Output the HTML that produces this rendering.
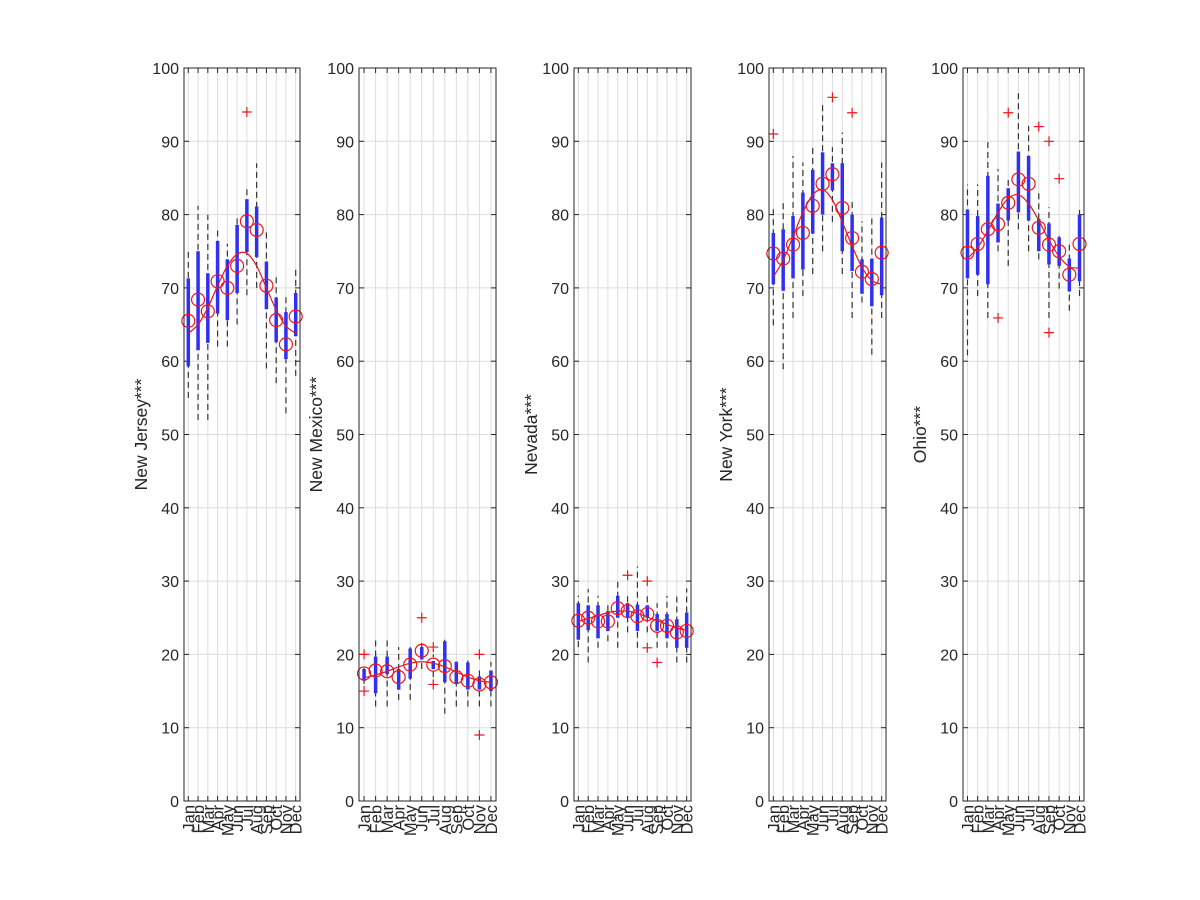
<!DOCTYPE html>
<html><head><meta charset="utf-8"><style>
html,body{margin:0;padding:0;background:#fff;}
svg{display:block;font-family:"Liberation Sans",Arial,sans-serif;}
</style></head><body>
<svg id="c" width="1200" height="900" viewBox="0 0 1200 900" xmlns="http://www.w3.org/2000/svg"></svg>
<script>
const months = ["Jan","Feb","Mar","Apr","May","Jun","Jul","Aug","Sep","Oct","Nov","Dec"];
const yTicks = [0,10,20,30,40,50,60,70,80,90,100];
const states = ["New Jersey***","New Mexico***","Nevada***","New York***","Ohio***"];
const wLo = [
 [55,52,52,62,62,65,69,70,59,57,52.9,58],
 [16,12.9,12.9,13.8,13.8,18,16.9,11.9,12.9,12.9,12.9,12.9],
 [21,18.9,20.9,21.8,20.9,23,20.9,23,20.9,20.9,18.9,18.9],
 [64.9,58.9,65.9,68.9,71.9,75,79,71.9,65.9,68,60.9,65.9],
 [60.8,68.9,65.9,75,73,78,75,73.9,65.9,69.9,66.9,68.9]];
const q1 = [
 [59.3,61.5,62.5,66.5,65.6,69.3,74.9,74.2,67.1,62.6,60.3,63.4],
 [16.4,14.7,17.3,15.2,16.7,19.3,18,16.2,16.1,15.2,15.2,15],
 [22,23.3,22.2,23.2,25,25,23.2,25,23.2,22.2,20.9,20.9],
 [70.5,69.6,71.3,72.5,77.4,80,83.3,75,72.3,69.2,67.5,69],
 [71.3,71.8,70.5,76.2,79.2,80.3,79.2,75,73.2,73,69.5,70.9]];
const q3 = [
 [71.3,75,72,76.4,73.9,78.6,82.1,81.1,73.6,68.7,66.7,69.3],
 [18,19.7,19.7,18,20.8,21,19.1,21.8,19,18.9,17,17.8],
 [27,26.7,26.7,25.9,28,27,26.8,26.7,25.5,25.5,24.8,25.7],
 [77.5,78,79.8,83,86.1,88.5,87,87,80,73.9,74,79.6],
 [80.7,79.8,85.3,81.5,83.6,88.6,88,79.4,78.8,76.9,74,80]];
const wHi = [
 [75.1,81.2,80,78,76,80,84,87,78,72,69,73],
 [18.7,22,22,21,21,22,20,22,19,19.2,18,19],
 [28,28.9,28,27,30,28,32,28,27,28,28,29],
 [81,82,88,87.1,89.2,95.1,89.2,91.2,82.1,79.1,80,87.1],
 [84.1,84.1,90.2,86.2,85.1,97.1,92.1,83,81,77.1,75.9,81]];
const means = [
 [65.5,68.4,66.8,70.9,70,73,79.1,77.9,70.3,65.6,62.3,66.1],
 [17.4,17.8,17.7,16.9,18.6,20.5,18.6,18.4,16.9,16.4,15.9,16.2],
 [24.6,25,24.5,24.5,26.3,25.9,25.2,25.5,23.9,23.9,23,23.2],
 [74.7,74,75.9,77.5,81.2,84.2,85.5,80.9,76.8,72.2,71.2,74.8],
 [74.8,76,78,78.7,81.6,84.8,84.2,78.2,75.9,75,71.8,76]];
const fits = [
 [63.8,65,67.3,70.3,73,74.6,74.7,73,70,67,64.8,63.8],
 [16.8,17.2,17.7,18.3,18.8,19,18.8,18.3,17.6,16.9,16.4,16.2],
 [24.5,24.9,25.3,25.7,25.9,25.9,25.6,25.1,24.6,24.1,23.6,23.3],
 [71.5,73.8,77,80.3,82.7,83.4,82,79,75.7,72.8,71,70.5],
 [74,75.5,77.8,80.3,82.2,82.7,81.5,79.2,76.5,74.3,72.9,72.7]];
const outliers = [
 [[6,94]],
 [[0,20],[0,15],[5,25],[6,21],[6,15.9],[10,20],[10,9]],
 [[5,30.8],[7,30],[7,20.9],[8,18.9]],
 [[0,91],[6,96],[8,93.9]],
 [[3,65.9],[4,93.9],[7,92],[8,90],[8,63.9],[9,84.9]]];

const panels = [[184,300],[359,496],[574,691],[769,886],[963,1084]];
const Y0 = 801, Y1 = 68;
const svg = document.getElementById('c');
const NS = "http://www.w3.org/2000/svg";
function mk(tag, attrs, parent){const e=document.createElementNS(NS,tag);for(const k in attrs)e.setAttribute(k,attrs[k]);(parent||svg).appendChild(e);return e;}
const yS = v => Y0 - (v/100)*(Y0-Y1);

panels.forEach((p,si)=>{
  const [L,R]=p;
  const g = mk('g',{});
  
  
  const xS = i => L + (i+1-0.56)/(11.88)*(R-L);
  yTicks.forEach(t=>{mk('line',{x1:L,x2:R,y1:yS(t),y2:yS(t),stroke:'#dcdcdc','stroke-width':1},g);});
  months.forEach((m,i)=>{mk('line',{x1:xS(i),x2:xS(i),y1:Y1,y2:Y0,stroke:'#dcdcdc','stroke-width':1},g);});
  yTicks.forEach(t=>{const y=yS(t);
    mk('line',{x1:L,x2:L+5,y1:y,y2:y,stroke:'#262626'},g);
    mk('line',{x1:R-5,x2:R,y1:y,y2:y,stroke:'#262626'},g);
    const tx=mk('text',{x:L-5,y:y+6,'text-anchor':'end','font-size':16,fill:'#262626'},g);tx.textContent=t;
    
    
  });
  months.forEach((m,i)=>{const x=xS(i);
    mk('line',{x1:x,x2:x,y1:Y0,y2:Y0-5,stroke:'#262626'},g);
    mk('line',{x1:x,x2:x,y1:Y1,y2:Y1+5,stroke:'#262626'},g);
    const tx=mk('text',{x:0,y:0,'text-anchor':'end','font-size':16.5,fill:'#262626',transform:`translate(${x+6},${Y0+4}) rotate(-90)`},g);tx.textContent=m;
    
    
  });
  months.forEach((m,i)=>{const x=xS(i);
    const w=mk('line',{x1:x,x2:x,y1:yS(wLo[si][i]),y2:yS(wHi[si][i]),stroke:'#333','stroke-width':1.2,'stroke-dasharray':'6,4'},g);
    
    
    const b=mk('line',{x1:x,x2:x,y1:yS(q1[si][i]),y2:yS(q3[si][i]),stroke:'#2f2ff5','stroke-width':3.5},g);
    
    
  });
  const pts=fits[si].map((v,i)=>[xS(i),yS(v)]);
  let d=`M${pts[0][0]},${pts[0][1]}`;
  for(let i=0;i<pts.length-1;i++){const p0=pts[Math.max(0,i-1)],p1=pts[i],p2=pts[i+1],p3=pts[Math.min(pts.length-1,i+2)];
    d+=` C${p1[0]+(p2[0]-p0[0])/6},${p1[1]+(p2[1]-p0[1])/6} ${p2[0]-(p3[0]-p1[0])/6},${p2[1]-(p3[1]-p1[1])/6} ${p2[0]},${p2[1]}`;}
  const fl=mk('path',{d:d,fill:'none',stroke:'#e8141b','stroke-width':1.2},g);
  
  
  means[si].forEach((v,i)=>{const c=mk('circle',{cx:xS(i),cy:yS(v),r:6.5,fill:'none',stroke:'#f0141b','stroke-width':1.2},g);
    
    });
  outliers[si].forEach(o=>{const x=xS(o[0]),y=yS(o[1]);
    const pth=mk('path',{d:`M${x-5},${y}H${x+5}M${x},${y-5}V${y+5}`,stroke:'#f0141b','stroke-width':1.2,fill:'none'},g);
    
    });
  mk('rect',{x:L,y:Y1,width:R-L,height:Y0-Y1,fill:'none',stroke:'#262626','stroke-width':1},g);
  const tt=mk('text',{x:0,y:0,'text-anchor':'middle','font-size':17.5,fill:'#262626',transform:`translate(${L-37},${(Y0+Y1)/2}) rotate(-90)`},g);
  tt.textContent=states[si];
  
  
});
</script>
</body></html>
